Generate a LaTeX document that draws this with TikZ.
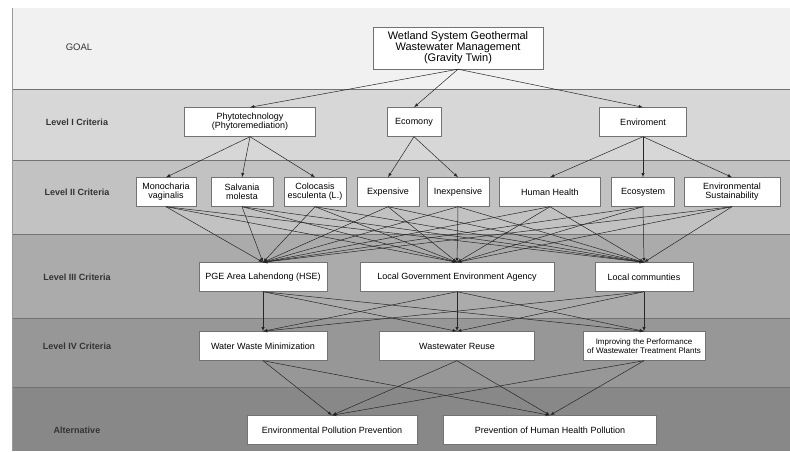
\documentclass[tikz,border=0pt]{standalone}
\usepackage{fontspec}
\setmainfont{Liberation Sans}
\usetikzlibrary{arrows}

\definecolor{bandgoal}{HTML}{F1F1F1}
\definecolor{bandone}{HTML}{D7D7D7}
\definecolor{bandtwo}{HTML}{C2C2C2}
\definecolor{bandthree}{HTML}{ABABAB}
\definecolor{bandfour}{HTML}{979797}
\definecolor{bandalt}{HTML}{888888}

\begin{document}
\begin{tikzpicture}[x=1pt,y=-1pt,
	box/.style={draw=black!55, fill=white, align=center, inner sep=1pt,
		font=\fontsize{9}{9}\selectfont, minimum height=29pt},
	lvl/.style={font=\bfseries\fontsize{9}{9}\selectfont, text=black!80},
	link/.style={draw=black!85, line width=0.5pt, -latex}]
	\useasboundingbox (0,0) rectangle (790,451);
	\fill[white] (0,0) rectangle (790,451);
	% bands
	\fill[bandgoal] (12,8) rectangle (790,89);
	\fill[bandone] (12,89) rectangle (790,160);
	\fill[bandtwo] (12,160) rectangle (790,234);
	\fill[bandthree] (12,234) rectangle (790,318);
	\fill[bandfour] (12,318) rectangle (790,387);
	\fill[bandalt] (12,387) rectangle (790,451);
	\foreach \y in {89,160,234,318,387}
	\draw[black!55, line width=1pt] (12,\y) -- (790,\y);
	\draw[black!40] (12,8) -- (12,451);

	% level names
	\node[font=\fontsize{9.5}{9.5}\selectfont, text=black!80] (lgoal) at (79,47) {GOAL};
	\node[lvl] (lone) at (77,122) {Level I Criteria};
	\node[lvl] (ltwo) at (77,192) {Level II Criteria};
	\node[lvl] (lthree) at (77,277) {Level III Criteria};
	\node[lvl] (lfour) at (77,346) {Level IV Criteria};
	\node[lvl] (lalt) at (77,430) {Alternative};

	% goal
	\node[box, minimum width=170pt, minimum height=42pt, font=\fontsize{11}{11}\selectfont] (goal) at (458,48)
	{Wetland System Geothermal\\Wastewater Management\\(Gravity Twin)};

	% level I
	\node[box, minimum width=131pt] (phyto) at (250,122) {Phytotechnology\\(Phytoremediation)};
	\node[box, minimum width=54pt] (econ) at (414,122) {Ecomony};
	\node[box, minimum width=87pt] (envi) at (643,122) {Enviroment};

	% level II
	\node[box, minimum width=60pt] (mono) at (166,192) {Monocharia\\vaginalis};
	\node[box, minimum width=62pt] (salv) at (242,192) {Salvania\\molesta};
	\node[box, minimum width=62pt] (colo) at (315,192) {Colocasis\\esculenta (L.)};
	\node[box, minimum width=62pt] (expe) at (388,192) {Expensive};
	\node[box, minimum width=62pt] (inex) at (458,192) {Inexpensive};
	\node[box, minimum width=101pt] (hhea) at (550,192) {Human Health};
	\node[box, minimum width=63pt] (ecos) at (643,192) {Ecosystem};
	\node[box, minimum width=96pt] (sust) at (732,192) {Environmental\\Sustainability};

	% level III
	\node[box, minimum width=128pt] (pge) at (263,277) {PGE Area Lahendong (HSE)};
	\node[box, minimum width=194pt] (lgov) at (457,277) {Local Government Environment Agency};
	\node[box, minimum width=98pt] (lcom) at (644,277) {Local communties};

	% level IV
	\node[box, minimum width=128pt] (wmin) at (263,346) {Water Waste Minimization};
	\node[box, minimum width=155pt] (wreu) at (457,346) {Wastewater Reuse};
	\node[box, minimum width=122pt, font=\fontsize{8}{8.5}\selectfont] (impr) at (644,346) {Improving the Performance\\of Wastewater Treatment Plants};

	% alternatives
	\node[box, minimum width=170pt] (epp) at (332,430) {Environmental Pollution Prevention};
	\node[box, minimum width=213pt] (phh) at (550,430) {Prevention of Human Health Pollution};

	% connectors
	\foreach \b in {phyto,econ,envi}
	\draw[link] (goal.south) -- (\b.north);
	\foreach \b in {mono,salv,colo}
	\draw[link] (phyto.south) -- (\b.north);
	\foreach \b in {expe,inex}
	\draw[link] (econ.south) -- (\b.north);
	\foreach \b in {hhea,ecos,sust}
	\draw[link] (envi.south) -- (\b.north);
	\foreach \a in {mono,salv,colo,expe,inex,hhea,ecos,sust}
	\foreach \b in {pge,lgov,lcom}
	\draw[link] (\a.south) -- (\b.north);
	\foreach \a in {pge,lgov,lcom}
	\foreach \b in {wmin,wreu,impr}
	\draw[link] (\a.south) -- (\b.north);
	\foreach \a in {wmin,wreu,impr}
	\foreach \b in {epp,phh}
	\draw[link] (\a.south) -- (\b.north);
\end{tikzpicture}
\end{document}
